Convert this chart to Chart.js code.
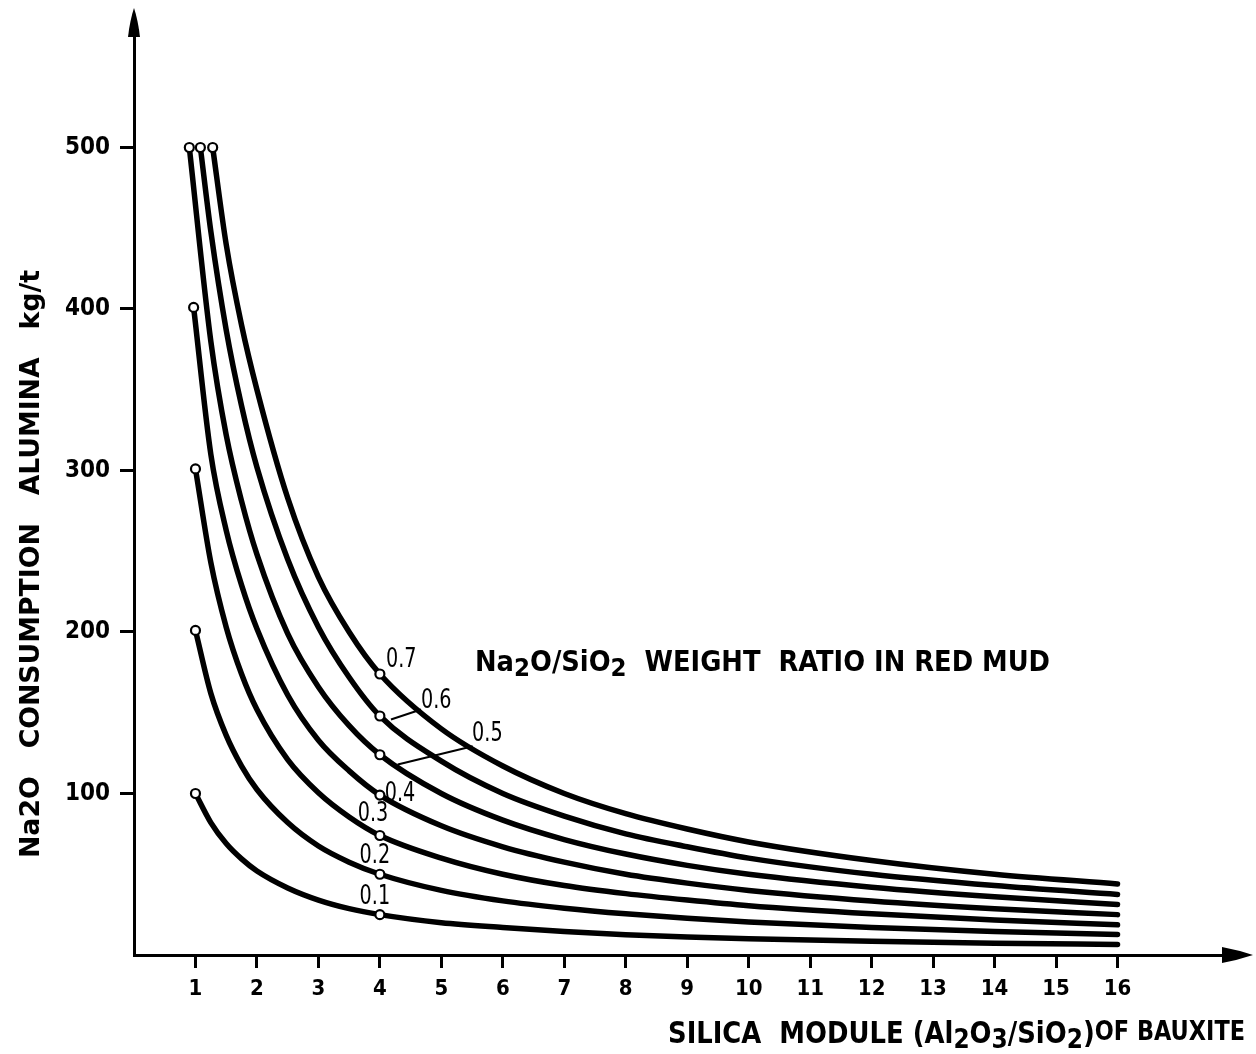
<!DOCTYPE html>
<html><head><meta charset="utf-8">
<script src="https://cdn.jsdelivr.net/npm/chart.js@4/dist/chart.umd.min.js"></script>
<style>html,body{margin:0;padding:0;background:#fff}#wrap{width:1256px;height:1054px}</style>
</head><body><div id="wrap"><canvas id="c" width="1256" height="1054"></canvas></div>
<script>
// ---- data ----
const ratios = ['0.1', '0.2', '0.3', '0.4', '0.5', '0.6', '0.7'];
const startModule = [1.0, 1.0, 1.0, 0.97, 0.9, 1.08, 1.28];
const startConsumption = [100, 201, 301, 401, 500, 500, 500];
const silicaModule = [1.25, 1.5, 1.75, 2, 2.5, 3, 3.5, 4, 5, 6, 7, 8, 9, 10, 12, 14, 16];
const na2o_01 = [82, 69, 59.5, 52, 41.5, 34, 28.7, 25, 20, 17, 14.5, 12.6, 11.2, 10.1, 8.5, 7.3, 6.5];
const na2o_02 = [162, 136, 117, 102.5, 82, 67.5, 57.5, 50, 40, 33.5, 29, 25.5, 22.7, 20.5, 17, 14.5, 12.7];
const na2o_03 = [243, 203, 174, 152, 121, 100.5, 85.5, 74, 60, 50, 43, 38, 34, 30.5, 25.5, 21.6, 18.7];
const na2o_04 = [310, 263, 229, 202, 161, 133, 114, 99, 80, 67, 57.5, 50, 44.5, 40, 33.5, 28.7, 25];
const na2o_05 = [380, 322, 281, 248, 199, 166, 142, 124, 100, 83.5, 71.5, 62.5, 55.5, 50, 42, 36, 31.2];
const na2o_06 = [448, 387, 340, 302, 245, 203, 172, 148, 120, 100, 86, 75, 67, 60, 50, 43, 37.5];
const na2o_07 = [null, 440, 390, 350, 283, 234, 200, 174, 140, 117, 100, 87.5, 78, 70, 58.5, 50, 44];
const seriesValues = [na2o_01, na2o_02, na2o_03, na2o_04, na2o_05, na2o_06, na2o_07];
const xTickValues = [1, 2, 3, 4, 5, 6, 7, 8, 9, 10, 11, 12, 13, 14, 15, 16];
const yTickValues = [100, 200, 300, 400, 500];
const markedModule = 4;

// ---- layout / style (not data) ----
const FAM = '"DejaVu Sans Condensed","DejaVu Sans",sans-serif';
const labelPos = [ // data coords of ratio labels (left edge, vertical middle)
  [3.67, 36.2], [3.67, 61.6], [3.64, 87.6], [4.08, 100], [5.50, 137.5], [4.67, 158], [4.10, 183]
];

const datasets = seriesValues.map((vals, i) => {
  const pts = [{x: startModule[i], y: startConsumption[i]}];
  silicaModule.forEach((m, j) => {
    if (vals[j] !== null && m > startModule[i]) pts.push({x: m, y: vals[j]});
  });
  return {
    label: ratios[i],
    data: pts,
    borderColor: '#000',
    borderWidth: 5.5,
    borderCapStyle: 'round',
    borderJoinStyle: 'round',
    cubicInterpolationMode: 'monotone',
    fill: false,
    clip: false,
    pointRadius: ctx => (ctx.dataIndex === 0 || (ctx.raw && ctx.raw.x === markedModule)) ? 4.5 : 0,
    pointBackgroundColor: '#fff',
    pointBorderColor: '#000',
    pointBorderWidth: 2.2,
    pointHoverRadius: 0
  };
});

function drawRich(ctx, parts, x, y, size, targetW, rotate) {
  ctx.save();
  let total = 0;
  const widths = parts.map(p => {
    ctx.font = `bold ${Math.round(size * (p[2] || 1))}px ${FAM}`;
    const w = ctx.measureText(p[0]).width;
    total += w;
    return w;
  });
  const sx = targetW ? targetW / total : 1;
  ctx.translate(x, y);
  if (rotate) ctx.rotate(rotate);
  ctx.scale(sx, 1);
  ctx.fillStyle = '#000';
  ctx.textBaseline = 'alphabetic';
  ctx.textAlign = 'left';
  let cx = 0;
  parts.forEach((p, k) => {
    ctx.font = `bold ${Math.round(size * (p[2] || 1))}px ${FAM}`;
    ctx.fillText(p[0], cx, (p[1] || 0) * size);
    cx += widths[k];
  });
  ctx.restore();
}

const decor = {
  id: 'decor',
  afterDraw(chart) {
    const ctx = chart.ctx, xs = chart.scales.x, ys = chart.scales.y;
    const ca = chart.chartArea;
    ctx.save();
    ctx.fillStyle = '#000';
    ctx.strokeStyle = '#000';
    // axis extensions + arrowheads
    const ax = xs.getPixelForValue(0), ay = ys.getPixelForValue(0);
    ctx.lineWidth = 3;
    ctx.beginPath(); ctx.moveTo(ax, ca.top); ctx.lineTo(ax, 30); ctx.stroke();
    ctx.beginPath(); ctx.moveTo(ca.right, ay); ctx.lineTo(1230, ay); ctx.stroke();
    ctx.beginPath(); // y arrow
    ctx.moveTo(ax, 8);
    ctx.quadraticCurveTo(ax + 4, 20, ax + 6, 37);
    ctx.lineTo(ax - 6, 37);
    ctx.quadraticCurveTo(ax - 4, 20, ax, 8);
    ctx.fill();
    ctx.beginPath(); // x arrow
    ctx.moveTo(1253, ay);
    ctx.quadraticCurveTo(1238, ay - 5, 1222, ay - 8);
    ctx.lineTo(1222, ay + 8);
    ctx.quadraticCurveTo(1238, ay + 5, 1253, ay);
    ctx.fill();

    // ratio labels
    ratios.forEach((r, i) => {
      const px = xs.getPixelForValue(labelPos[i][0]);
      const py = ys.getPixelForValue(labelPos[i][1]);
      ctx.save();
      ctx.font = `500 26px ${FAM}`;
      ctx.textBaseline = 'middle';
      ctx.fillStyle = '#000';
      ctx.translate(px, py);
      ctx.scale(0.82, 1);
      ctx.fillText(r, 0, 1);
      ctx.restore();
    });
    // leader lines
    ctx.lineWidth = 2;
    ctx.beginPath();
    ctx.moveTo(xs.getPixelForValue(4.18), ys.getPixelForValue(145.8));
    ctx.lineTo(xs.getPixelForValue(4.67), ys.getPixelForValue(152));
    ctx.stroke();
    ctx.beginPath();
    ctx.moveTo(xs.getPixelForValue(4.29), ys.getPixelForValue(118));
    ctx.lineTo(xs.getPixelForValue(5.51), ys.getPixelForValue(129.3));
    ctx.stroke();
    ctx.restore();

    // titles
    drawRich(ctx, [['Na', 0], ['2', 0.18, 0.9], ['O/SiO', 0], ['2', 0.18, 0.9], ['  WEIGHT  RATIO IN RED MUD', 0]],
      475, 671, 28, 575);
    drawRich(ctx, [['SILICA  MODULE (Al', 0], ['2', 0.18, 0.9], ['O', 0], ['3', 0.18, 0.9], ['/SiO', 0], ['2', 0.18, 0.9], [')', 0], ['OF BAUXITE', -0.1, 0.85]],
      668, 1043, 30, 577);
    drawRich(ctx, [['Na', 0], ['2', 0, 1], ['O   CONSUMPTION   ALUMINA   kg/t', 0]],
      39, 858, 27, 588, -Math.PI / 2);
  }
};

new Chart(document.getElementById('c'), {
  type: 'line',
  data: { datasets },
  options: {
    responsive: false,
    animation: false,
    devicePixelRatio: 1,
    layout: { padding: { left: 0, top: 36, right: 16, bottom: 0 } },
    plugins: { legend: { display: false }, tooltip: { enabled: false } },
    scales: {
      x: {
        type: 'linear',
        min: 0,
        max: (1240 - 134) / 61.47,
        afterBuildTicks: s => { s.ticks = xTickValues.map(v => ({value: v})); },
        afterFit: s => { s.height = 99; },
        ticks: { color: '#000', font: { family: FAM, size: 22, weight: 'bold' }, padding: 8, maxRotation: 0, autoSkip: false },
        grid: { drawOnChartArea: false, drawTicks: true, tickLength: 13, tickWidth: 3, tickColor: '#000' },
        border: { display: true, color: '#000', width: 3 }
      },
      y: {
        type: 'linear',
        min: 0,
        max: (955 - 36) / 1.615,
        afterBuildTicks: s => { s.ticks = yTickValues.map(v => ({value: v})); },
        afterFit: s => { s.width = 134; },
        ticks: { color: '#000', font: { family: FAM, size: 24, weight: 'bold' }, padding: 10 },
        grid: { drawOnChartArea: false, drawTicks: true, tickLength: 14, tickWidth: 3, tickColor: '#000' },
        border: { display: true, color: '#000', width: 3 }
      }
    }
  },
  plugins: [decor]
});
</script></body></html>
